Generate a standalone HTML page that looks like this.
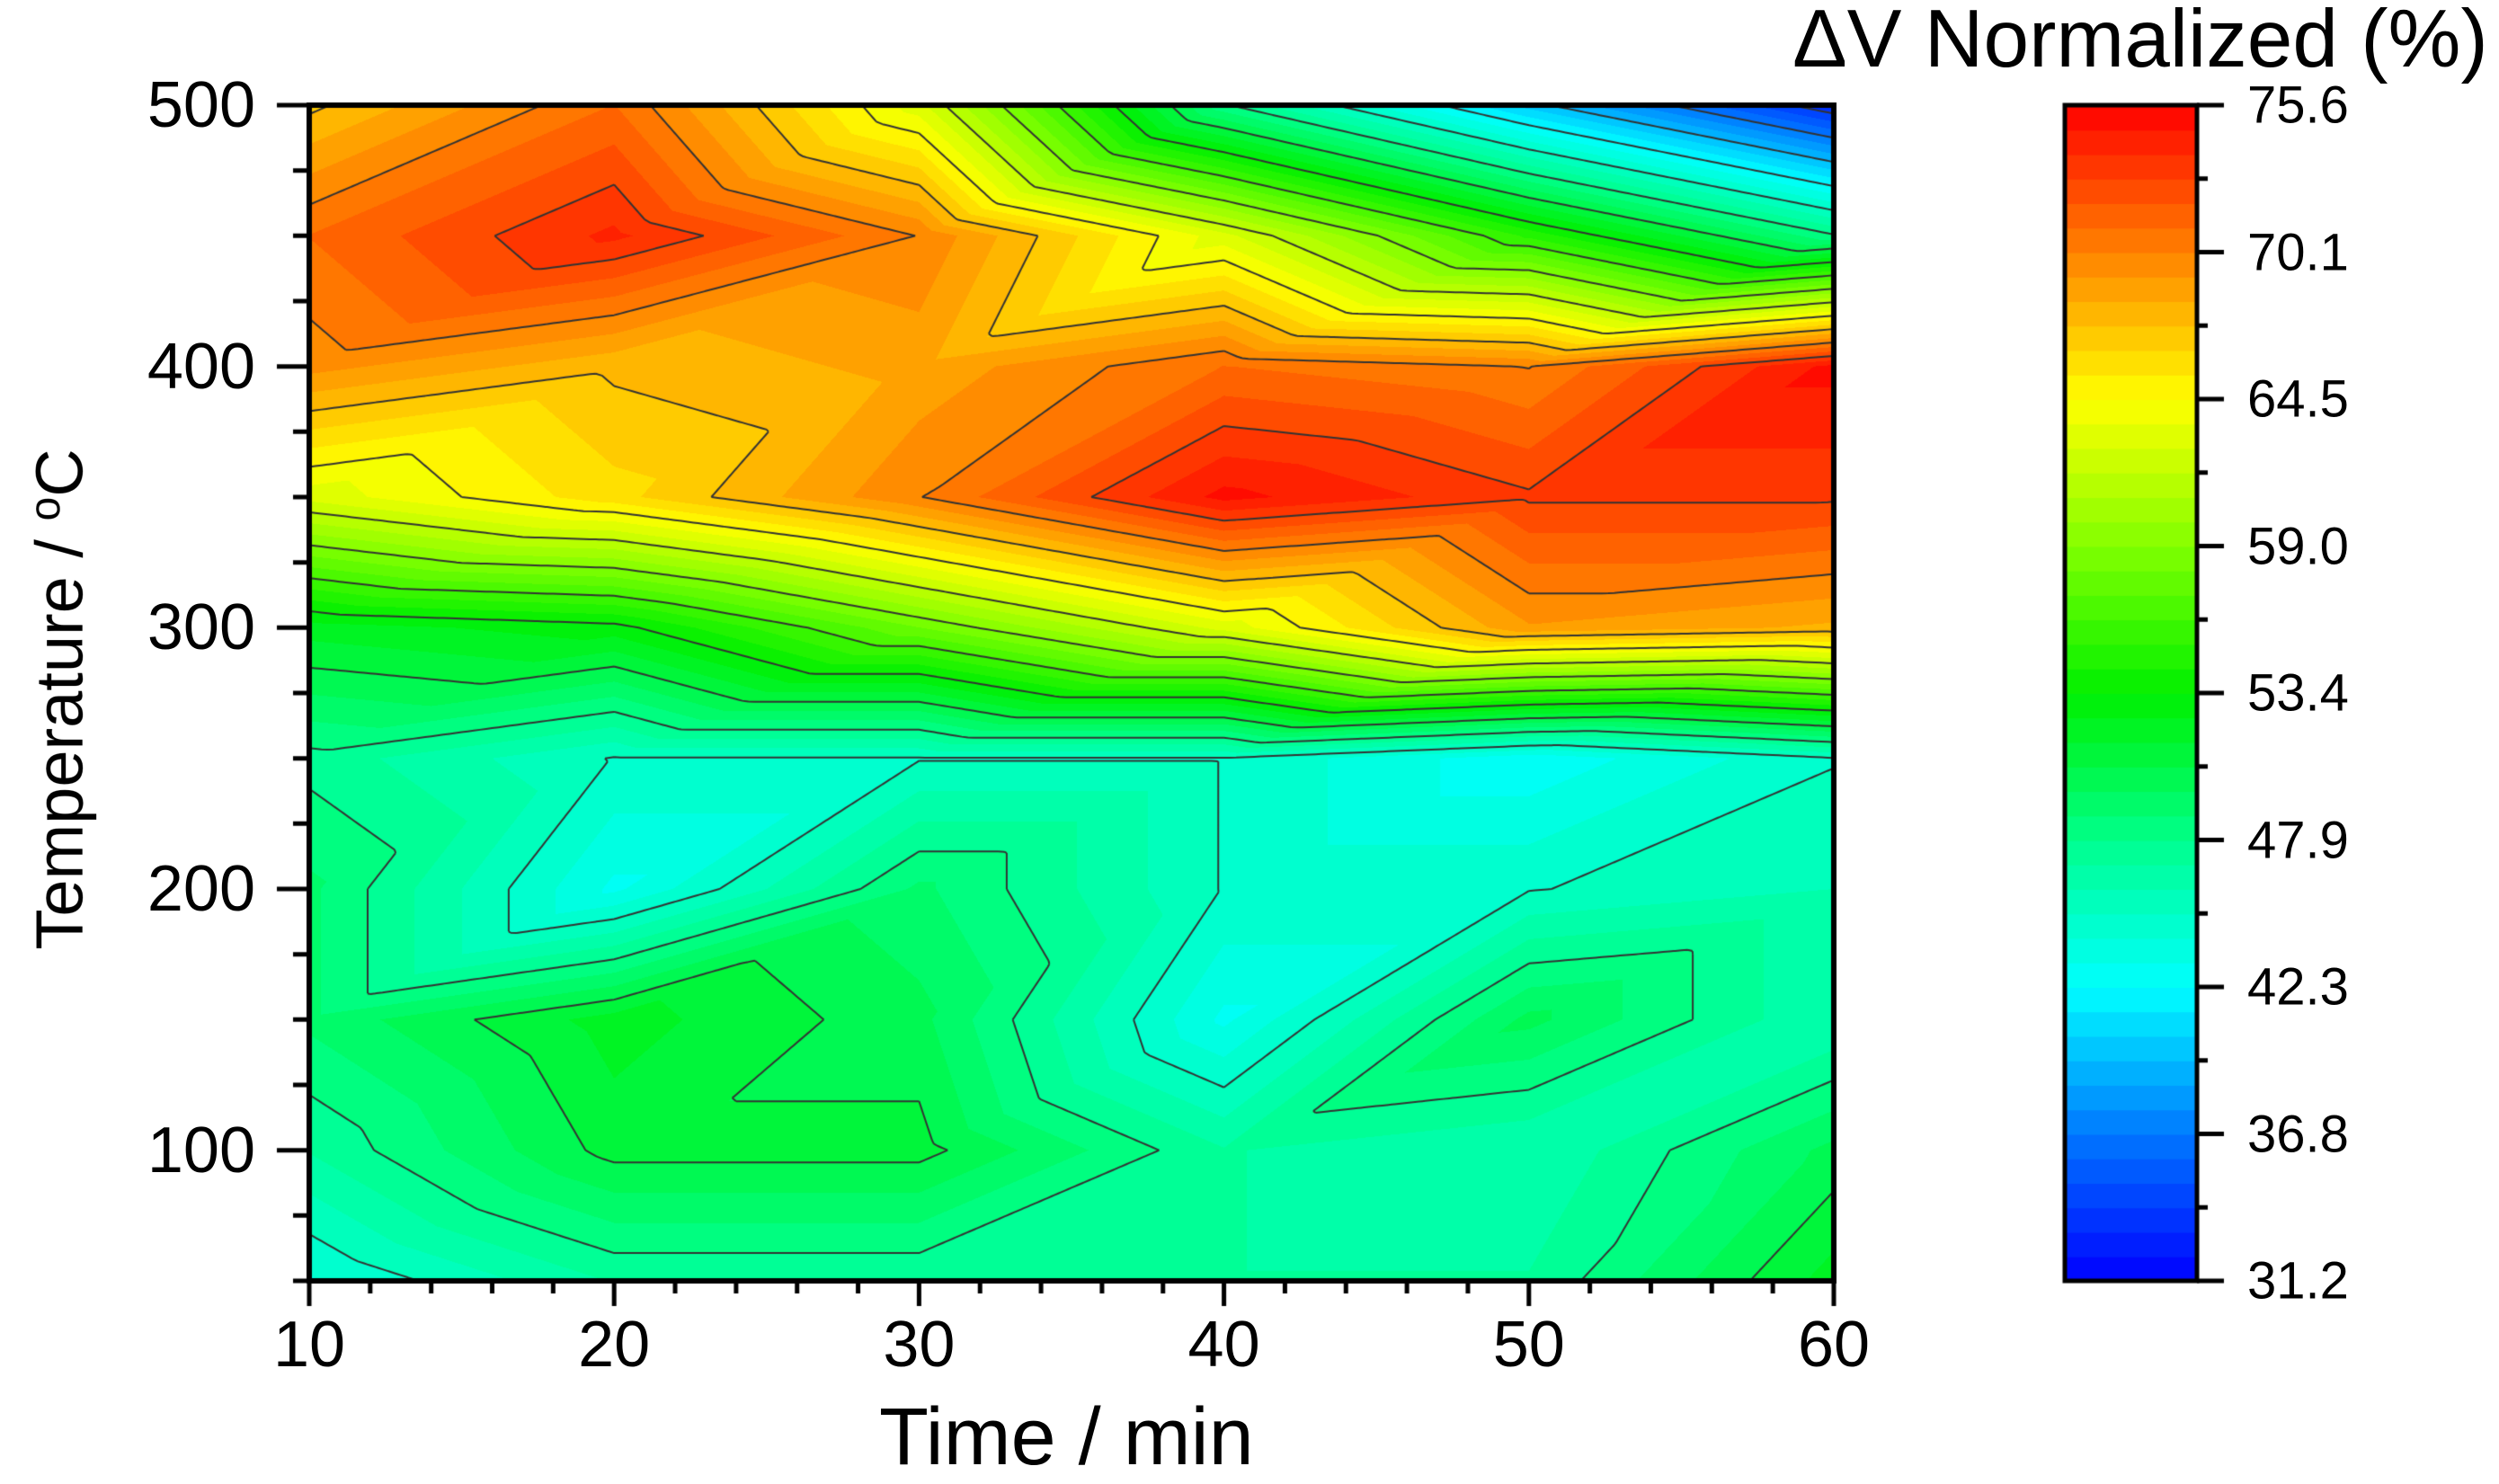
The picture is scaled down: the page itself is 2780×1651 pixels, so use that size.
<!DOCTYPE html>
<html><head><meta charset="utf-8"><style>
html,body{margin:0;padding:0;background:#fff;}
body{width:2780px;height:1645px;position:relative;overflow:hidden;font-family:"Liberation Sans",sans-serif;}
.t{position:absolute;color:#000;white-space:nowrap;}
</style></head><body>
<canvas id="c" width="2780" height="1645" style="position:absolute;left:0;top:0"></canvas>
<div class="t" style="left:1994px;top:-8px;font-size:91px;">ΔV Normalized (%)</div>
<div class="t" style="left:978px;top:1548px;font-size:90px;">Time / min</div>
<div class="t" style="left:66px;top:778px;font-size:74px;transform:translate(-50%,-50%) rotate(-90deg);">Temperature / <sup style="font-size:48px">o</sup>C</div>
<div id="labels"></div>
<script>
const xs=[10,20,30,40,50,60];
const ys=[50,100,150,200,250,300,350,400,450,500];
const z50=[44,47,47,47,47,52];
const z100=[47,51,51,47,46,50];
const z150=[49,52,50,43,50,46];
const z200=[49,43,49,45,45,46];
const z250=[47.5,45,45,45,42.5,45];
const z300=[52,53,58,63,69,68];
const z350=[63,66,70,75,73,73];
const z400=[69.5,67.5,68.5,71,70,75];
const z450=[71,74,70,63,55,48];
const z500=[67,71,63,48,40,33];
const Z=[z50,z100,z150,z200,z250,z300,z350,z400,z450,z500];
const xTicks=[10,20,30,40,50,60];
const yTicks=[100,200,300,400,500];
const cbTicks=["31.2","36.8","42.3","47.9","53.4","59.0","64.5","70.1","75.6"];
const zmin=31.2,zmax=75.6,nb=48;

const L=344,R=2040,T=117,B=1425;
const sx=v=>L+(v-10)/50*(R-L);
const sy=v=>B-(v-50)/450*(B-T);
const CL=2297,CR=2444;
const stops=[[0,0,0,255],[0.125,0,120,255],[0.25,0,255,255],[0.375,0,255,140],[0.5,0,240,0],[0.625,130,255,0],[0.75,255,255,0],[0.875,255,130,0],[1,255,0,0]];
function cmap(t){t=Math.max(0,Math.min(1,t));for(let i=1;i<stops.length;i++){if(t<=stops[i][0]){const a=stops[i-1],b=stops[i],f=(t-a[0])/(b[0]-a[0]);return [0,1,2].map(k=>Math.round(a[k+1]+f*(b[k+1]-a[k+1])));}}return [255,0,0];}
function band(v){let k=Math.floor((v-zmin)/(zmax-zmin)*nb);k=Math.max(0,Math.min(nb-1,k));return cmap((k+0.5)/nb);}
function val(x,y){
  let i=0;while(i<xs.length-2&&x>xs[i+1])i++;
  let j=0;while(j<ys.length-2&&y>ys[j+1])j++;
  const fx=(x-xs[i])/(xs[i+1]-xs[i]),fy=(y-ys[j])/(ys[j+1]-ys[j]);
  const a=Z[j][i],b=Z[j][i+1],c=Z[j+1][i],d=Z[j+1][i+1];
  if(fx>=fy) return a+(b-a)*fx+(d-b)*fy;
  return a+(c-a)*fy+(d-c)*fx;
}
const cv=document.getElementById('c'),ctx=cv.getContext('2d');
const W=R-L,H=B-T,img=ctx.createImageData(W,H);
for(let py=0;py<H;py++){const y=50+(B-(T+py+0.5))/(B-T)*450;
  for(let px=0;px<W;px++){const x=10+(px+0.5)/W*50;const c=band(val(x,y));const o=(py*W+px)*4;img.data[o]=c[0];img.data[o+1]=c[1];img.data[o+2]=c[2];img.data[o+3]=255;}}
ctx.putImageData(img,L,T);
ctx.strokeStyle='#333';ctx.lineWidth=2;
const step=(zmax-zmin)/nb*3;
const N=250,M=360;
const g=[];for(let j=0;j<=M;j++){g[j]=[];for(let i=0;i<=N;i++)g[j][i]=val(10+i/N*50,50+j/M*450);}
ctx.beginPath();
for(let lv=zmin+step;lv<zmax;lv+=step){
 for(let j=0;j<M;j++)for(let i=0;i<N;i++){
  const p=[[i,j],[i+1,j],[i+1,j+1],[i,j+1]];const v=p.map(q=>g[q[1]][q[0]]);const pts=[];
  for(let e=0;e<4;e++){const a=v[e],b=v[(e+1)%4];if((a<lv)!==(b<lv)){const f=(lv-a)/(b-a);const qa=p[e],qb=p[(e+1)%4];pts.push([qa[0]+f*(qb[0]-qa[0]),qa[1]+f*(qb[1]-qa[1])]);}}
  for(let k=0;k+1<pts.length;k+=2){ctx.moveTo(sx(10+pts[k][0]/N*50),sy(50+pts[k][1]/M*450));ctx.lineTo(sx(10+pts[k+1][0]/N*50),sy(50+pts[k+1][1]/M*450));}
 }}
ctx.stroke();
ctx.strokeStyle='#000';ctx.lineWidth=6;ctx.strokeRect(L,T,W,H);
ctx.lineWidth=5;ctx.beginPath();
for(let v=10;v<=60;v+=2){const x=sx(v);const maj=(v%10===0);ctx.moveTo(x,B);ctx.lineTo(x,B+(maj?28:14));}
for(let v=50;v<=500;v+=25){const y=sy(v);const maj=(v%100===0);ctx.moveTo(L,y);ctx.lineTo(L-(maj?36:18),y);}
ctx.stroke();
for(let k=0;k<nb;k++){const c=cmap((k+0.5)/nb);ctx.fillStyle=`rgb(${c[0]},${c[1]},${c[2]})`;const y0=B-(k+1)/nb*(B-T),y1=B-k/nb*(B-T);ctx.fillRect(CL,y0,CR-CL,y1-y0+1);}
ctx.lineWidth=5;ctx.strokeRect(CL,T,CR-CL,B-T);
ctx.beginPath();
for(let k=0;k<=16;k++){const y=B-k/16*(B-T);ctx.moveTo(CR,y);ctx.lineTo(CR+(k%2===0?30:12),y);}
ctx.stroke();
const lab=document.getElementById('labels');
function addLabel(txt,x,y,name,align,fs){const d=document.createElement('div');d.className='t';d.textContent=txt;


d.style.fontSize=fs+'px';d.style.left=x+'px';d.style.top=y+'px';d.style.transform=align;lab.appendChild(d);}
xTicks.forEach(v=>addLabel(String(v),sx(v),1496,'x-tick-label','translate(-50%,-50%)',72));
yTicks.forEach(v=>addLabel(String(v),284,sy(v),'y-tick-label','translate(-100%,-50%)',72));
cbTicks.forEach((t,k)=>addLabel(t,2500,B-k/8*(B-T),'colorbar-tick-label','translate(0,-50%)',58));
</script>
</body></html>
